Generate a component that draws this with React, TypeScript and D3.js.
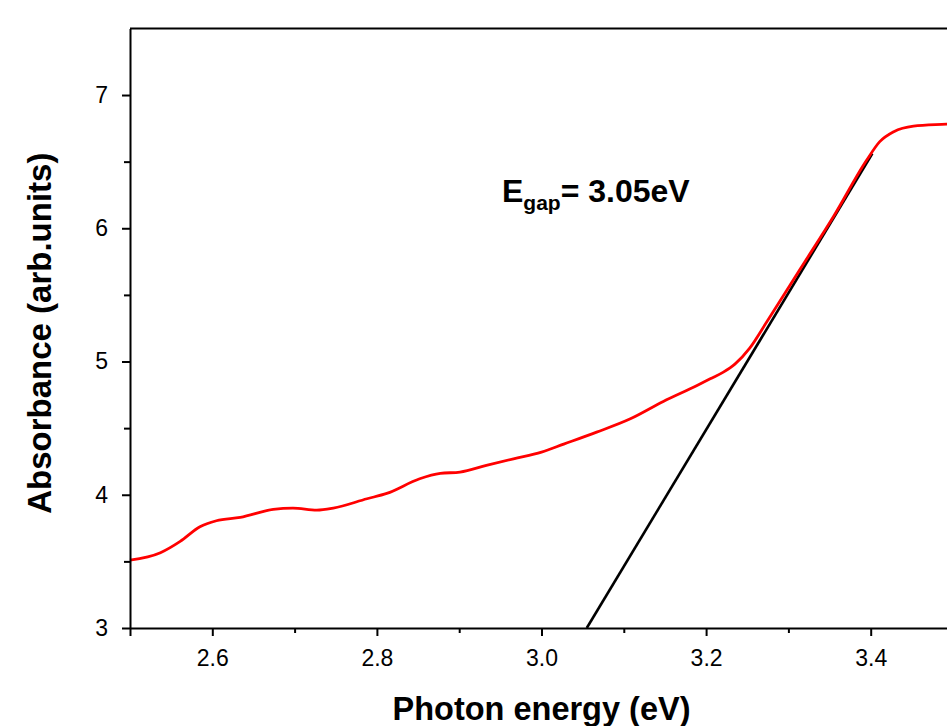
import React, {useEffect, useRef} from 'react'
import * as d3 from 'd3'

// photon energy (eV) vs absorbance
const energy = [
  2.5, 2.537, 2.561, 2.585, 2.605, 2.634, 2.674, 2.698, 2.727, 2.747, 2.788,
  2.812, 2.852, 2.877, 2.901, 2.933, 2.966, 3.0, 3.027, 3.067, 3.108, 3.148,
  3.189, 3.205, 3.221, 3.235, 3.253, 3.274, 3.314, 3.355, 3.395, 3.411, 3.428,
  3.452, 3.492, 3.5
]
const absorbance = [
  3.51, 3.565, 3.65, 3.76, 3.805, 3.83, 3.89, 3.9, 3.885, 3.9, 3.97,
  4.01, 4.12, 4.16, 4.17, 4.22, 4.27, 4.32, 4.38, 4.47, 4.57, 4.7,
  4.82, 4.87, 4.92, 4.98, 5.1, 5.3, 5.69, 6.09, 6.51, 6.65, 6.725,
  6.767, 6.782, 6.785
]

// linear fit of the absorption edge (Tauc extrapolation)
const fitEnergy = [3.055, 3.402]
const fitAbsorbance = [3.0, 6.56]

const xMajor = [2.5, 2.6, 2.8, 3.0, 3.2, 3.4]
const xMinor = [2.7, 2.9, 3.1, 3.3]
const yMajor = [3, 4, 5, 6, 7]
const yMinor = [3.5, 4.5, 5.5, 6.5]

const W = 947
const H = 726
const font = '"Liberation Sans", Arial, sans-serif'

export default function App() {
  const xAxisRef = useRef(null)
  const xMinorRef = useRef(null)
  const yAxisRef = useRef(null)
  const yMinorRef = useRef(null)

  const x = d3.scaleLinear().domain([2.5, 3.5]).range([130, 953])
  const y = d3.scaleLinear().domain([3, 7.5]).range([628, 28.4])

  const pts = energy.map((e, i) => [e, absorbance[i]])
  const curve = d3
    .line()
    .x(d => x(d[0]))
    .y(d => y(d[1]))
    .curve(d3.curveMonotoneX)(pts)

  const fitLine = d3
    .line()
    .x(d => x(d[0]))
    .y(d => y(d[1]))(fitEnergy.map((e, i) => [e, fitAbsorbance[i]]))

  useEffect(() => {
    const style = g => {
      g.attr('font-size', 23).attr('font-family', font)
      g.select('.domain').attr('stroke', '#000').attr('stroke-width', 2)
      g.selectAll('.tick line').attr('stroke', '#000').attr('stroke-width', 2)
      g.selectAll('.tick text')
        .attr('font-family', font)
        .attr('font-size', 23)
        .attr('fill', '#000')
    }

    d3.select(xAxisRef.current)
      .call(
        d3.axisBottom(x)
          .tickValues(xMajor)
          .tickSizeInner(8)
          .tickSizeOuter(0)
          .tickPadding(14)
          .tickFormat(d => (d === 2.5 ? '' : d3.format('.1f')(d)))
      )
      .call(style)

    d3.select(xMinorRef.current)
      .call(d3.axisBottom(x).tickValues(xMinor).tickSize(5).tickFormat(() => ''))
      .call(style)
      .select('.domain')
      .remove()

    d3.select(yAxisRef.current)
      .call(
        d3.axisLeft(y)
          .tickValues(yMajor)
          .tickSizeInner(8)
          .tickSizeOuter(0)
          .tickPadding(14)
          .tickFormat(d3.format('d'))
      )
      .call(style)

    d3.select(yMinorRef.current)
      .call(d3.axisLeft(y).tickValues(yMinor).tickSize(6).tickFormat(() => ''))
      .call(style)
      .select('.domain')
      .remove()
  }, [])

  return (
    <svg
      width={W}
      height={H}
      style={{position: 'absolute', left: 0, top: 0, background: '#fff'}}
    >
      <rect width={W} height={H} fill="#fff" />
      {/* top frame line */}
      <line x1={x(2.5)} x2={x(3.5)} y1={y(7.5)} y2={y(7.5)} stroke="#000" strokeWidth={2} />

      <path d={fitLine} fill="none" stroke="#000" strokeWidth={2.6} />
      <path d={curve} fill="none" stroke="#ff0000" strokeWidth={2.8} />

      <g ref={xAxisRef} transform={`translate(0,${y(3)})`} />
      <g ref={xMinorRef} transform={`translate(0,${y(3)})`} />
      <g ref={yAxisRef} transform={`translate(${x(2.5)},0)`} />
      <g ref={yMinorRef} transform={`translate(${x(2.5)},0)`} />

      <text
        x={(x(2.5) + x(3.5)) / 2}
        y={720}
        textAnchor="middle"
        fontFamily={font}
        fontWeight="bold"
        fontSize={32.5}
      >
        Photon energy (eV)
      </text>
      <text
        transform={`translate(51,${(y(3) + y(7.5)) / 2 + 5}) rotate(-90)`}
        textAnchor="middle"
        fontFamily={font}
        fontWeight="bold"
        fontSize={33}
      >
        Absorbance (arb.units)
      </text>

      <text x={502} y={202} fontFamily={font} fontWeight="bold" fontSize={32}>
        E
        <tspan fontSize={21} dy={8}>gap</tspan>
        <tspan fontSize={32} dy={-8}>= 3.05eV</tspan>
      </text>
    </svg>
  )
}
